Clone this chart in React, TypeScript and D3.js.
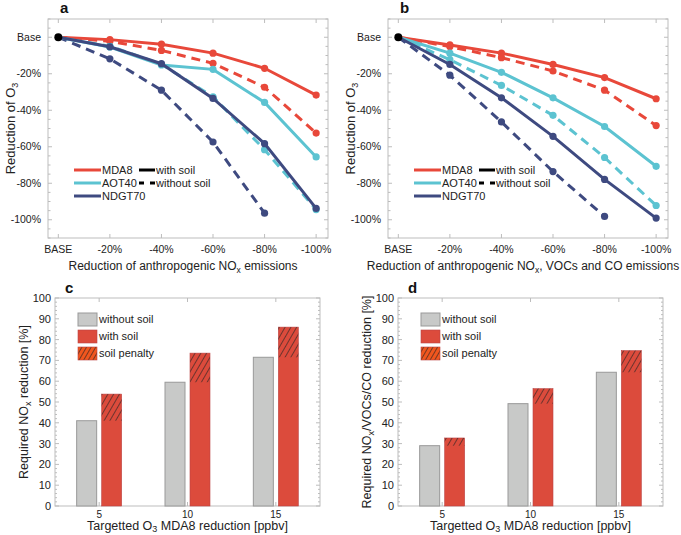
import React from "react";
import * as d3 from "d3";

const xLabels = ["BASE", "-20%", "-40%", "-60%", "-80%", "-100%"];
const yTicksLine = [0, -20, -40, -60, -80, -100];
const seriesNames = ["MDA8", "AOT40", "NDGT70"];
const seriesColors = ["#E8483A", "#5CC3D1", "#3E4A80"];

// Panel a (NOx only)
const aMDA8With = [0, -1.3, -3.8, -8.7, -17, -31.7];
const aMDA8Without = [0, -2.2, -7.2, -14.3, -27.4, -52.5];
const aAOT40With = [0, -5.4, -15.2, -17.6, -35.7, -65.6];
const aAOT40Without = [0, -4.9, -14.8, -32.6, -61.6, -94.4];
const aNDGT70With = [0, -5.2, -14.5, -33.5, -58.3, -93.8];
const aNDGT70Without = [0, -11.8, -29, -57.4, -96.4];

// Panel b (NOx, VOCs and CO)
const bMDA8With = [0, -4.2, -8.7, -14.9, -22.1, -33.7];
const bMDA8Without = [0, -5.1, -11.2, -18.5, -29, -48.4];
const bAOT40With = [0, -8.7, -19.2, -33.2, -48.9, -70.7];
const bAOT40Without = [0, -12.3, -26.4, -42.8, -65.9, -92.2];
const bNDGT70With = [0, -14.9, -33.2, -54.3, -77.9, -99.1];
const bNDGT70Without = [0, -20.8, -46.4, -73.6, -98.2];

// Bars
const barCategories = [5, 10, 15];
const cWithout = [41, 59.5, 71.5];
const cWith = [53.8, 73.5, 86];
const dWithout = [29, 49.2, 64.3];
const dWith = [32.7, 56.4, 74.7];
const barTicks = [0, 10, 20, 30, 40, 50, 60, 70, 80, 90, 100];

const FONT = "Liberation Sans, Arial, sans-serif";
const BOX = "#BDBDBD";

function LinePanel({ x0, label, withS, withoutS, xTitle }: any) {
  const left = x0, right = x0 + 280, top = 19, bottom = 238;
  const x = d3.scaleLinear().domain([-0.2, 5.23]).range([left, right]);
  const y = d3.scaleLinear().domain([10, -110]).range([top, bottom]);
  const line = d3.line<number>().x((_, i) => x(i)).y((v) => y(v));
  const minor = d3.range(10, -111, -5);
  const order = [0, 1, 2];
  const cy = (top + bottom) / 2;
  return (
    <g fontFamily={FONT}>
      <rect x={left} y={top} width={right - left} height={bottom - top} fill="white" stroke={BOX} strokeWidth={1} />
      {minor.map((v) => (
        <g key={"m" + v}>
          <line x1={left} x2={left + (v % 20 === 0 ? 4 : 2.5)} y1={y(v)} y2={y(v)} stroke={BOX} />
          <line x1={right} x2={right - (v % 20 === 0 ? 4 : 2.5)} y1={y(v)} y2={y(v)} stroke={BOX} />
        </g>
      ))}
      {xLabels.map((l, i) => (
        <g key={l}>
          <line x1={x(i)} x2={x(i)} y1={bottom} y2={bottom - 4} stroke={BOX} />
          <line x1={x(i)} x2={x(i)} y1={top} y2={top + 4} stroke={BOX} />
          <text x={x(i)} y={bottom + 15} textAnchor="middle" fontSize={10.5} fill="#222">{l}</text>
        </g>
      ))}
      {yTicksLine.map((v) => (
        <text key={v} x={left - 7} y={y(v) + 3.5} textAnchor="end" fontSize={10.5} fill="#222">
          {v === 0 ? "Base" : v + "%"}
        </text>
      ))}
      <text x={x0 + 12} y={13} fontSize={15} fontWeight="bold" fill="#111">{label}</text>
      <text x={left - 33} y={cy} transform={`rotate(-90 ${left - 33} ${cy})`} textAnchor="middle" fontSize={13} fill="#222">
        Reduction of O<tspan fontSize={9} dy={3}>3</tspan>
      </text>
      <text x={(left + right) / 2 - 5} y={270} textAnchor="middle" fontSize={12} fill="#222">{xTitle}</text>
      {order.map((k) => (
        <g key={"wo" + k}>
          <path d={line(withoutS[k]) as string} fill="none" stroke={seriesColors[k]} strokeWidth={3} strokeDasharray="9 6" />
          {withoutS[k].slice(1).map((v: number, i: number) => (
            <circle key={i} cx={x(i + 1)} cy={y(v)} r={3.6} fill={seriesColors[k]} />
          ))}
        </g>
      ))}
      {order.map((k) => (
        <g key={"w" + k}>
          <path d={line(withS[k]) as string} fill="none" stroke={seriesColors[k]} strokeWidth={3} />
          {withS[k].slice(1).map((v: number, i: number) => (
            <circle key={i} cx={x(i + 1)} cy={y(v)} r={3.6} fill={seriesColors[k]} />
          ))}
        </g>
      ))}
      <circle cx={x(0)} cy={y(0)} r={4} fill="#000" />
      {seriesNames.map((n, k) => (
        <g key={n}>
          <line x1={left + 26} x2={left + 53} y1={170 + k * 13} y2={170 + k * 13} stroke={seriesColors[k]} strokeWidth={3} />
          <text x={left + 54} y={174 + k * 13} fontSize={11} fill="#222">{n}</text>
        </g>
      ))}
      <line x1={left + 91} x2={left + 107} y1={170} y2={170} stroke="#000" strokeWidth={3} />
      <text x={left + 108} y={174} fontSize={11} fill="#222">with soil</text>
      <line x1={left + 91} x2={left + 107} y1={183} y2={183} stroke="#000" strokeWidth={3} strokeDasharray="5 6" />
      <text x={left + 108} y={187} fontSize={11} fill="#222">without soil</text>
    </g>
  );
}

function BarPanel({ left, label, without, withS, yTitle, patId }: any) {
  const right = left + 265, top = 298, bottom = 506;
  const x = d3.scaleLinear().domain([2.5, 17.5]).range([left, right]);
  const y = d3.scaleLinear().domain([0, 100]).range([bottom, top]);
  const bw = 20;
  const minor = d3.range(0, 101, 2);
  const cy = (top + bottom) / 2;
  return (
    <g fontFamily={FONT}>
      <defs>
        <pattern id={patId} patternUnits="userSpaceOnUse" width={5} height={5} patternTransform="rotate(30)">
          <line x1={0} y1={0} x2={0} y2={5} stroke="#222" strokeWidth={1.2} />
        </pattern>
        <pattern id={patId + "L"} patternUnits="userSpaceOnUse" width={4} height={4} patternTransform="rotate(30)">
          <rect width={4} height={4} fill="#F0561E" />
          <line x1={0} y1={0} x2={0} y2={4} stroke="#222" strokeWidth={1.2} />
        </pattern>
      </defs>
      <rect x={left} y={top} width={right - left} height={bottom - top} fill="white" stroke={BOX} />
      {minor.map((v) => (
        <g key={v}>
          <line x1={left} x2={left + (v % 10 === 0 ? 4 : 2)} y1={y(v)} y2={y(v)} stroke={BOX} />
          <line x1={right} x2={right - (v % 10 === 0 ? 4 : 2)} y1={y(v)} y2={y(v)} stroke={BOX} />
        </g>
      ))}
      {barTicks.map((v) => (
        <text key={v} x={left - 4} y={y(v) + 4} textAnchor="end" fontSize={11} fill="#222">{v}</text>
      ))}
      {barCategories.map((c, i) => (
        <g key={c}>
          <line x1={x(c)} x2={x(c)} y1={bottom} y2={bottom - 4} stroke={BOX} />
          <line x1={x(c)} x2={x(c)} y1={top} y2={top + 4} stroke={BOX} />
          <text x={x(c)} y={bottom + 12} textAnchor="middle" fontSize={10} fill="#222">{c}</text>
          <rect x={x(c) - bw - 2.5} y={y(without[i])} width={bw} height={y(0) - y(without[i])} fill="#C8C9C8" stroke="#999" strokeWidth={1} />
          <rect x={x(c) + 2.5} y={y(withS[i])} width={bw} height={y(0) - y(withS[i])} fill="#DC4B3C" stroke="#B44" strokeWidth={0.6} />
          <rect x={x(c) + 2.5} y={y(withS[i])} width={bw} height={y(without[i]) - y(withS[i])} fill={`url(#${patId})`} />
        </g>
      ))}
      <text x={left + 10} y={293} fontSize={15} fontWeight="bold" fill="#111">{label}</text>
      <text x={(left + right) / 2} y={530} textAnchor="middle" fontSize={12.5} fill="#222">
        Targetted O<tspan fontSize={9} dy={2}>3</tspan><tspan dy={-2}> MDA8 reduction [ppbv]</tspan>
      </text>
      <text x={left - 27} y={cy} transform={`rotate(-90 ${left - 27} ${cy})`} textAnchor="middle" fontSize={12.5} fill="#222">
        {yTitle}
      </text>
      <rect x={left + 23} y={313} width={19} height={13} fill="#C8C9C8" stroke="#999" />
      <text x={left + 44} y={323} fontSize={11} fill="#222">without soil</text>
      <rect x={left + 23} y={330} width={19} height={13} fill="#DC4B3C" stroke="#B44" strokeWidth={0.6} />
      <text x={left + 44} y={340} fontSize={11} fill="#222">with soil</text>
      <rect x={left + 23} y={347} width={19} height={13} fill={`url(#${patId}L)`} stroke="#B44" strokeWidth={0.6} />
      <text x={left + 44} y={357} fontSize={11} fill="#222">soil penalty</text>
    </g>
  );
}

export default function App() {
  return (
    <svg width={681} height={535} style={{ position: "absolute", left: 0, top: 0, background: "white" }}>
      <rect width={681} height={535} fill="white" />
      <LinePanel
        x0={48}
        label="a"
        withS={[aMDA8With, aAOT40With, aNDGT70With]}
        withoutS={[aMDA8Without, aAOT40Without, aNDGT70Without]}
        xTitle={<>Reduction of anthropogenic NO<tspan fontSize={8.5} dy={3}>x</tspan><tspan dy={-3}> emissions</tspan></>}
      />
      <LinePanel
        x0={388}
        label="b"
        withS={[bMDA8With, bAOT40With, bNDGT70With]}
        withoutS={[bMDA8Without, bAOT40Without, bNDGT70Without]}
        xTitle={<>Reduction of anthropogenic NO<tspan fontSize={8.5} dy={3}>x</tspan><tspan dy={-3}>, VOCs and CO emissions</tspan></>}
      />
      <BarPanel
        left={55}
        label="c"
        without={cWithout}
        withS={cWith}
        patId="hatchC"
        yTitle={<>Required NO<tspan fontSize={9} dy={3}>x</tspan><tspan dy={-3}> reduction [%]</tspan></>}
      />
      <BarPanel
        left={398}
        label="d"
        without={dWithout}
        withS={dWith}
        patId="hatchD"
        yTitle={<>Required NO<tspan fontSize={9} dy={3}>x</tspan><tspan dy={-3}>/VOCs/CO reduction  [%]</tspan></>}
      />
    </svg>
  );
}
